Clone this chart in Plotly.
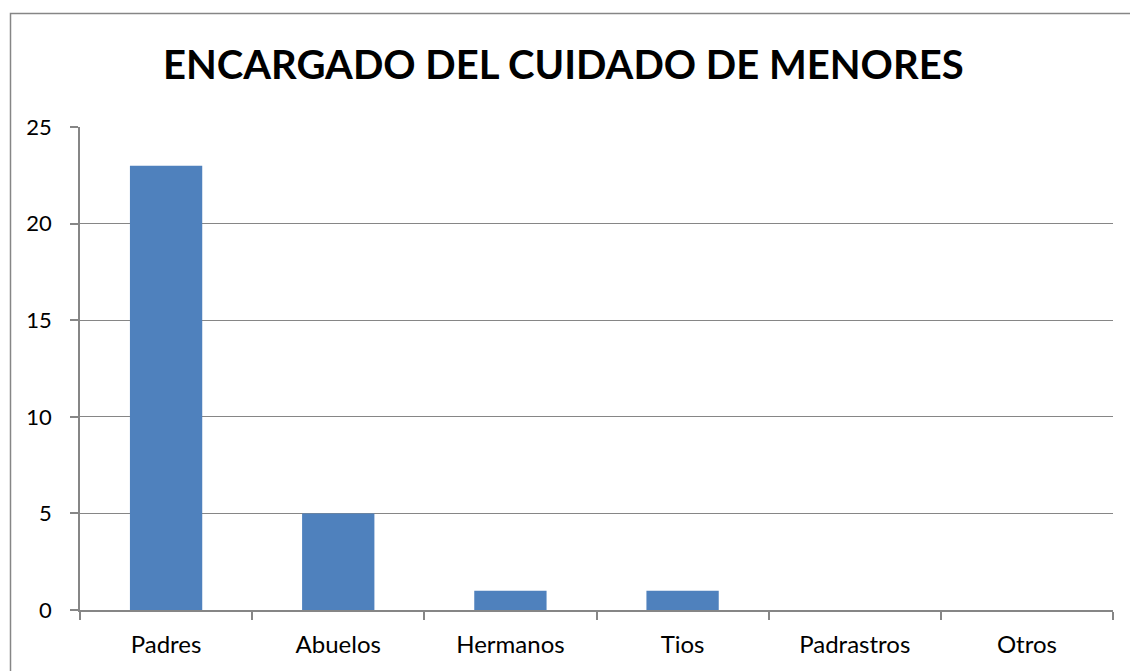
import plotly.graph_objects as go

categories = ["Padres", "Abuelos", "Hermanos", "Tios", "Padrastros", "Otros"]
values = [23, 5, 1, 1, 0, 0]
title_text = "ENCARGADO DEL CUIDADO DE MENORES"

W, H = 1130, 671
L, R, T, B = 80, 17, 127, 61
pw, ph = W - L - R, H - T - B

def px_x(px):
    return (px - L) / pw

def px_y(py):
    return (H - B - py) / ph

gray = "#868686"
font_fam = "Lato, Carlito, Calibri, sans-serif"

fig = go.Figure(go.Bar(x=categories, y=values, marker_color="#4F81BD",
                       marker_line_width=0))
fig.update_layout(
    width=W, height=H,
    margin=dict(l=L, r=R, t=T, b=B),
    paper_bgcolor="white", plot_bgcolor="white",
    bargap=0.58,
    showlegend=False,
    font=dict(family=font_fam, size=22, color="black"),
    title=dict(text="<b>" + title_text + "</b>", x=0.4985, xref="container",
               y=1 - 65 / H, yanchor="middle", xanchor="center",
               font=dict(family=font_fam, size=40, color="black")),
)
fig.update_xaxes(showline=True, linecolor=gray, linewidth=1.5,
                 ticks="outside", tickson="boundaries", ticklen=8,
                 tickcolor=gray, tickwidth=1.5, showgrid=False,
                 ticklabelstandoff=12,
                 tickfont=dict(size=24))
fig.update_yaxes(range=[0, 25], dtick=5, showline=True, linecolor=gray,
                 linewidth=1.5, ticks="outside", ticklen=8, tickcolor=gray,
                 tickwidth=1.5, showgrid=True, gridcolor=gray, gridwidth=1.2,
                 zeroline=False, ticklabelstandoff=14,
                 tickfont=dict(size=22))
fig.add_shape(type="rect", xref="paper", yref="paper",
              x0=px_x(10.5), y0=px_y(700), x1=px_x(1160), y1=px_y(13.5),
              line=dict(color=gray, width=1.5), fillcolor="rgba(0,0,0,0)",
              layer="above")
fig.write_html("out.html", config={"displayModeBar": False},
               post_script="document.body.style.margin='0';document.body.style.overflow='hidden';")
